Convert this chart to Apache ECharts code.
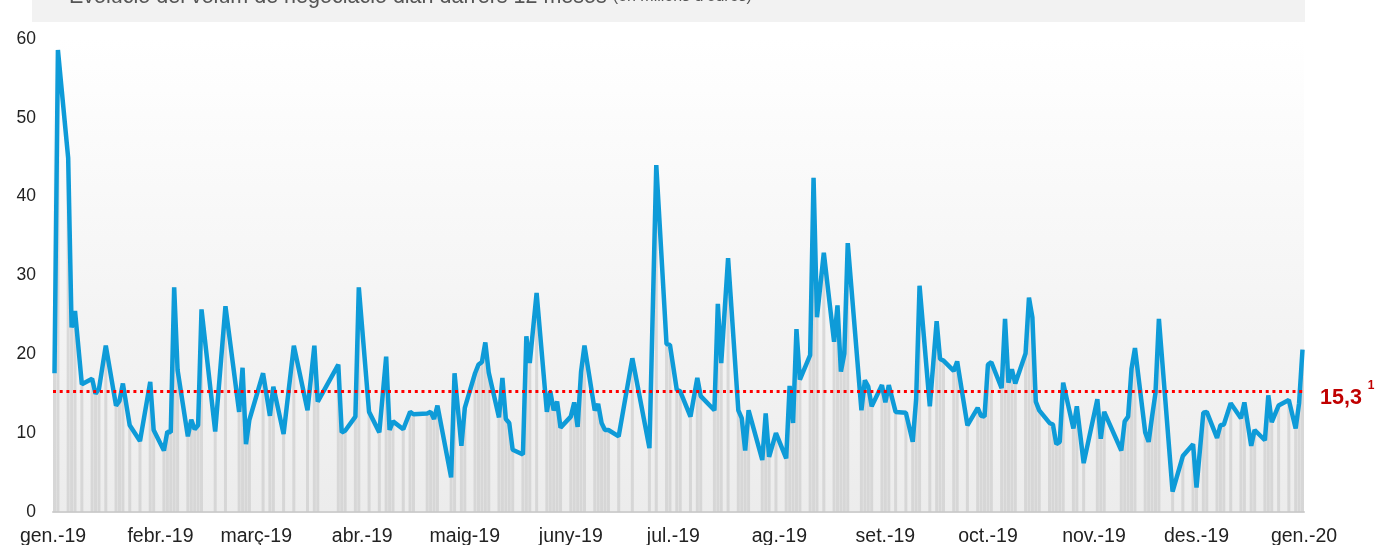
<!DOCTYPE html>
<html>
<head>
<meta charset="utf-8">
<script src="https://cdn.jsdelivr.net/npm/echarts@6/dist/echarts.min.js"></script>
<style>
  html, body { margin: 0; padding: 0; background: #fff; }
  #chart { width: 1377px; height: 545px; }
</style>
</head>
<body>
<div id="chart"></div>
<script>
// days since 1 Jan 2019 of each point visible on the line
const dayOffsets = [0, 1, 4, 5, 6, 8, 11, 12, 13, 15, 18, 19, 20, 22, 25, 28, 29, 32, 33, 34,
  35, 36, 39, 40, 41, 42, 43, 47, 50, 54, 55, 56, 57, 61, 63, 64, 67, 70, 74, 76,
  77, 83, 84, 85, 88, 89, 92, 95, 97, 98, 99, 102, 104, 105, 109, 110, 111, 112, 116, 117,
  119, 120, 123, 124, 125, 126, 127, 130, 131, 132, 133, 134, 137, 138, 139, 141, 144, 145, 146, 147,
  148, 151, 152, 153, 154, 155, 158, 159, 160, 161, 162, 165, 169, 174, 176, 179, 180, 182, 183, 186,
  188, 189, 193, 194, 195, 197, 200, 201, 202, 203, 207, 208, 209, 211, 214, 215, 216, 217, 218, 221,
  222, 223, 225, 228, 229, 230, 231, 232, 236, 237, 238, 239, 242, 243, 244, 246, 249, 251, 252, 253,
  256, 258, 259, 260, 263, 264, 267, 270, 271, 272, 273, 274, 277, 278, 279, 280, 281, 284, 285, 286,
  287, 288, 291, 292, 293, 294, 295, 298, 299, 301, 305, 306, 307, 312, 313, 314, 315, 316, 319, 320,
  321, 322, 323, 327, 330, 333, 334, 336, 337, 340, 341, 342, 344, 347, 348, 350, 351, 354, 355, 356,
  358, 361, 363, 364, 365];

// daily trading volume, millions of euros
const volume = [17.6, 58.6, 44.9, 23.4, 25.5, 16.2, 16.9, 15.0, 15.6, 21.1, 13.5, 14.1, 16.3, 11.0, 9.0, 16.5, 10.4, 7.8, 10.2, 10.1,
  28.5, 18.0, 9.6, 11.7, 10.5, 11.0, 25.7, 10.2, 26.1, 12.7, 18.3, 8.6, 11.7, 17.6, 12.2, 15.9, 9.9, 21.1, 12.9, 21.1,
  14.0, 18.7, 10.1, 10.3, 12.1, 28.5, 12.7, 10.1, 19.7, 10.4, 11.5, 10.5, 12.7, 12.4, 12.5, 12.7, 11.8, 13.5, 4.4, 17.6,
  8.4, 13.2, 17.6, 18.7, 19.0, 21.5, 17.7, 12.0, 17.0, 11.8, 11.3, 7.9, 7.3, 22.3, 18.9, 27.8, 12.7, 15.3, 12.9, 14.0,
  10.7, 12.1, 13.9, 10.8, 17.8, 21.1, 12.9, 13.7, 11.3, 10.4, 10.4, 9.6, 19.5, 8.1, 44.0, 21.3, 21.2, 15.5, 15.3, 12.1,
  17.0, 14.7, 12.9, 26.4, 18.9, 32.2, 12.9, 11.9, 7.8, 12.9, 6.6, 12.5, 7.0, 10.0, 6.8, 16.0, 11.3, 23.2, 16.8, 19.9,
  42.4, 24.7, 32.9, 21.6, 26.2, 17.8, 20.1, 34.1, 12.9, 16.7, 15.9, 13.4, 16.1, 13.9, 16.1, 12.7, 12.6, 8.9, 14.3, 28.7,
  13.4, 24.2, 19.4, 19.2, 17.9, 19.1, 11.0, 13.2, 12.2, 12.1, 18.7, 19.0, 15.7, 24.5, 16.4, 18.1, 16.3, 20.1, 27.2, 24.7,
  14.0, 12.9, 11.3, 11.1, 8.6, 8.9, 16.4, 10.6, 13.4, 6.2, 14.3, 9.3, 12.7, 7.8, 11.5, 12.1, 18.2, 20.8, 10.1, 8.9,
  12.1, 15.1, 24.5, 2.6, 7.1, 8.6, 3.1, 12.6, 12.7, 9.4, 11.0, 11.1, 13.8, 11.9, 13.9, 8.4, 10.4, 9.1, 14.8, 11.4,
  13.5, 14.2, 10.6, 13.8, 20.6];

const monthNames = ['gen.', 'febr.', 'març', 'abr.', 'maig', 'juny', 'jul.', 'ag.', 'set.', 'oct.', 'nov.', 'des.'];
const average = 15.3;
const xMin = Date.UTC(2019, 0, 1);
const xMax = Date.UTC(2020, 0, 1);

const points = dayOffsets.map((d, i) => [Date.UTC(2019, 0, 1 + d), volume[i]]);

const chart = echarts.init(document.getElementById('chart'));
chart.setOption({
  animation: false,
  useUTC: true,
  textStyle: { fontFamily: 'Liberation Sans, Arial, sans-serif' },
  title: {
    left: 64,
    top: -19,
    text: 'Evolució del volum de negociació diari darrers 12 mesos {s|(en milions d\'euros)}',
    textStyle: {
      fontSize: 21.5, fontWeight: 'normal', color: '#555',
      rich: { s: { fontSize: 16, color: '#555' } }
    }
  },
  graphic: [{
    type: 'rect', left: 32, top: 0, z: -1,
    shape: { width: 1273, height: 22 },
    style: { fill: '#f2f2f2' }
  }],
  grid: {
    left: 53, right: 73, top: 39, bottom: 33,
    outerBoundsMode: 'none',
    show: true, borderWidth: 0,
    backgroundColor: new echarts.graphic.LinearGradient(0, 0, 0, 1, [
      { offset: 0, color: '#ffffff' },
      { offset: 1, color: '#ececec' }
    ])
  },
  xAxis: {
    type: 'time',
    min: xMin,
    max: xMax,
    splitNumber: 12,
    axisLine: { lineStyle: { color: '#d0d0d0', width: 2 } },
    axisTick: { show: false },
    splitLine: { show: false },
    axisLabel: {
      color: '#222', fontSize: 19.5, margin: 15,
      showMinLabel: true, showMaxLabel: true,
      formatter: v => {
        // the first tick may come in before min; label it as min
        const d = new Date(Math.min(Math.max(v, xMin), xMax));
        return monthNames[d.getUTCMonth()] + '-' + String(d.getUTCFullYear()).slice(2);
      }
    }
  },
  yAxis: {
    type: 'value', min: 0, max: 60, interval: 10,
    axisLine: { show: false },
    axisTick: { show: false },
    splitLine: { show: false },
    axisLabel: { color: '#222', fontSize: 17.5, margin: 17 }
  },
  series: [
    {
      type: 'bar',
      data: points,
      barWidth: 3,
      itemStyle: { color: 'rgba(200,200,200,0.6)' },
      silent: true
    },
    {
      type: 'line',
      data: points,
      symbol: 'none',
      lineStyle: { color: '#0e9bd8', width: 4.5 },
      z: 3,
      markLine: {
        silent: true,
        symbol: 'none',
        data: [{ yAxis: average }],
        lineStyle: { type: [3, 3.7], color: '#ff0000', width: 3 },
        label: {
          position: 'end',
          distance: 16,
          padding: [14, 0, 0, 0],
          formatter: '{a|15,3}{b|1}',
          rich: {
            a: { fontSize: 21.5, fontWeight: 'bold', color: '#c00000' },
            b: { fontSize: 12, fontWeight: 'bold', color: '#c00000', padding: [0, 0, 26, 6] }
          }
        }
      }
    }
  ]
});
</script>
</body>
</html>
